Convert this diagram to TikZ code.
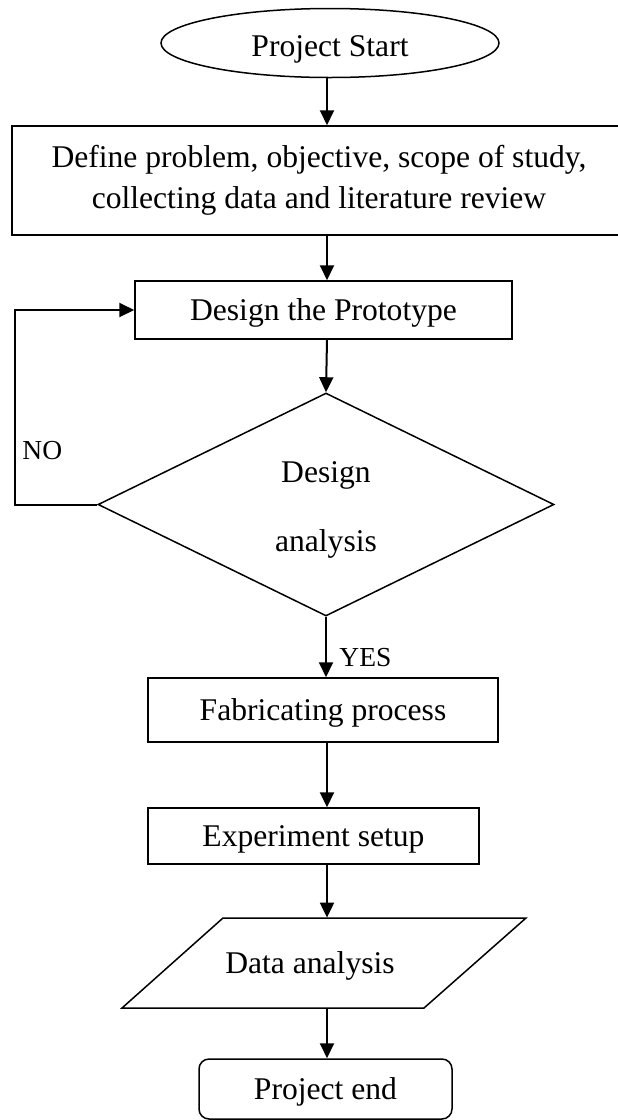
\documentclass[tikz,border=0pt]{standalone}
\usepackage{fontspec}
\setmainfont{Liberation Serif}
\usetikzlibrary{shapes.geometric,arrows.meta}
\begin{document}
\begin{tikzpicture}[x=0.5pt,y=-0.5pt,
  every node/.style={font=\fontsize{15.8pt}{20.5pt}\selectfont},
  shapeline/.style={draw, line width=0.75pt},
  boxnode/.style={shapeline, rectangle, inner sep=0pt, text height=10.5pt, text depth=0pt},
  flow/.style={line width=1pt, -{Triangle[length=7.5pt,width=7pt]}},
  tag/.style={font=\fontsize{13.75pt}{16pt}\selectfont, inner sep=0pt}]
\useasboundingbox (0,0) rectangle (617,1120);

% process steps
\node[shapeline, ellipse, minimum width=169pt, minimum height=34.5pt, inner sep=0pt,
      text height=13pt, text depth=0pt] (start) at (330,43) {Project Start};
\node[shapeline, rectangle, minimum width=307pt, minimum height=54.5pt, inner sep=0pt,
      align=center] (define) at (319,180.5)
      {Define problem, objective, scope of study,\\collecting data and literature review};
\node[boxnode, minimum width=188.5pt, minimum height=29pt] (design) at (323.5,310) {Design the Prototype};
\node[shapeline, diamond, aspect=2, minimum width=228pt, minimum height=111.5pt, inner sep=0pt,
      align=center, text height=46.5pt, text depth=0pt] (dec) at (326,504.5) {Design\\[14pt]analysis};
\node[boxnode, minimum width=175pt, minimum height=32pt] (fab) at (323,710) {Fabricating process};
\node[boxnode, minimum width=165.5pt, minimum height=28pt] (exp) at (313.5,836) {Experiment setup};

% input/output step drawn as a slanted parallelogram
\node[inner sep=0pt, minimum height=45pt, text height=10.5pt, text depth=0pt] (data) at (310,963) {Data analysis};
\draw[shapeline] (223,918) -- (526,918) -- (424,1008) -- (122,1008) -- cycle;

\node[boxnode, rounded corners=5pt, minimum width=126.5pt, minimum height=30pt] (endn) at (325.5,1089) {Project end};

% main flow line
\coordinate (ax) at (327,0);
\draw[flow] (start.south -| ax) -- (define.north -| ax);
\draw[flow] (define.south -| ax) -- (design.north -| ax);
\draw[flow] (design.south -| ax) -- (dec.north);
\draw[flow] (dec.south) -- (fab.north -| dec.south);
\draw[flow] (fab.south -| ax) -- (exp.north -| ax);
\draw[flow] (exp.south -| ax) -- (data.north -| ax);
\draw[flow] (data.south -| ax) -- (endn.north -| ax);

% loop back when the design fails
\draw[flow] (dec.west) -- ++(-82,0) |- (design.west);

\node[tag, anchor=base west] (no) at (22,459) {NO};
\node[tag, anchor=base west] (yes) at (339,666) {YES};
\end{tikzpicture}
\end{document}
